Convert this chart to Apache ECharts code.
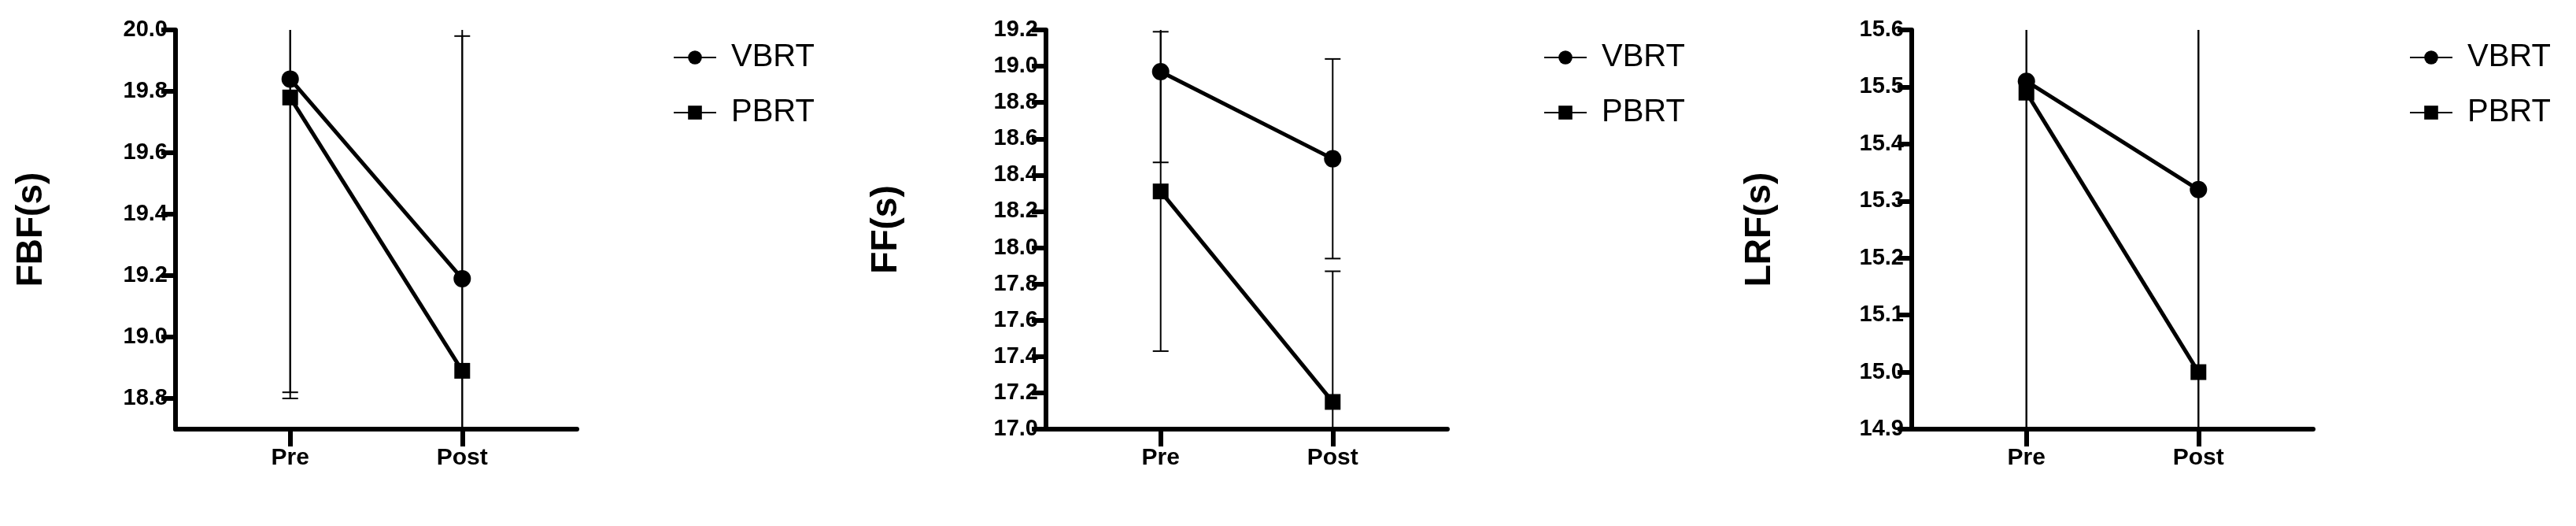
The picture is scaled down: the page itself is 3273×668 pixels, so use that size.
<!DOCTYPE html>
<html><head><meta charset="utf-8">
<script src="https://cdn.jsdelivr.net/npm/echarts@6/dist/echarts.min.js"></script>
<style>html,body{margin:0;padding:0;background:#fff}#c{width:3273px;height:668px}</style>
</head><body><div id="c"></div>
<script>
const categories = ['Pre', 'Post'];
const seriesNames = ['VBRT', 'PBRT'];
const titles = ['FBF(s)', 'FF(s)', 'LRF(s)'];
// means
const fbfVBRT = [19.84, 19.19], fbfPBRT = [19.78, 18.89];
const ffVBRT = [18.97, 18.49], ffPBRT = [18.31, 17.15];
const lrfVBRT = [15.51, 15.32], lrfPBRT = [15.49, 15.00];
// standard deviations
const fbfVBRTsd = [1.02, 0.79], fbfPBRTsd = [0.98, 1.20];
const ffVBRTsd = [0.50, 0.55], ffPBRTsd = [0.88, 0.72];
const lrfVBRTsd = [0.70, 0.80], lrfPBRTsd = [0.70, 0.80];
// tick labels
const fbfTicks = [18.8, 19.0, 19.2, 19.4, 19.6, 19.8, 20.0];
const ffTicks = [17.0, 17.2, 17.4, 17.6, 17.8, 18.0, 18.2, 18.4, 18.6, 18.8, 19.0, 19.2];
const lrfTicks = [14.9, 15.0, 15.1, 15.2, 15.3, 15.4, 15.5, 15.6];

const panels = [
  {v: fbfVBRT, p: fbfPBRT, vs: fbfVBRTsd, ps: fbfPBRTsd, ticks: fbfTicks, min: 18.7, max: 20.0, left: 223, gap: 160},
  {v: ffVBRT, p: ffPBRT, vs: ffVBRTsd, ps: ffPBRTsd, ticks: ffTicks, min: 17.0, max: 19.2, left: 1329, gap: 180},
  {v: lrfVBRT, p: lrfPBRT, vs: lrfVBRTsd, ps: lrfPBRTsd, ticks: lrfTicks, min: 14.9, max: 15.6, left: 2429, gap: 170}
];
const xPos = i => 1 + i * 1.5;
const font = 'Liberation Sans, Arial, sans-serif';

const grid = [], xAxis = [], yAxis = [], series = [], legend = [];
panels.forEach((pn, k) => {
  grid.push({left: pn.left, top: 38, width: 510, height: 507});
  xAxis.push({type: 'value', gridIndex: k, min: 0, max: 3.5, splitLine: {show: false},
    axisLine: {lineStyle: {color: '#000', width: 6}},
    axisTick: {customValues: categories.map((c, i) => xPos(i)), length: 22, lineStyle: {width: 6, color: '#000'}},
    axisLabel: {customValues: categories.map((c, i) => xPos(i)), margin: 22,
      formatter: v => categories[Math.round((v - 1) / 1.5)] || '',
      color: '#000', fontSize: 30, fontWeight: 'bold', fontFamily: font}});
  yAxis.push({type: 'value', gridIndex: k, min: pn.min, max: pn.max, splitLine: {show: false},
    name: titles[k], nameLocation: 'middle', nameGap: pn.gap,
    nameTextStyle: {color: '#000', fontSize: 46, fontWeight: 'bold', fontFamily: font},
    axisLine: {show: true, lineStyle: {color: '#000', width: 6}},
    axisTick: {show: true, customValues: pn.ticks, length: 18, lineStyle: {width: 6, color: '#000'}},
    axisLabel: {customValues: pn.ticks, formatter: v => v.toFixed(1), margin: 10,
      color: '#000', fontSize: 29, fontWeight: 'bold', fontFamily: font}});
  const groups = [[pn.v, pn.vs, 'circle', 22], [pn.p, pn.ps, 'rect', 20]];
  groups.forEach(([m, sd, sym, size], j) => {
    series.push({type: 'custom', xAxisIndex: k, yAxisIndex: k, clip: true, silent: true, z: 1,
      data: m.map((val, i) => [xPos(i), val, sd[i]]),
      renderItem: (params, api) => {
        const x = api.value(0), y = api.value(1), s = api.value(2);
        const top = api.coord([x, y + s]), bot = api.coord([x, y - s]);
        const st = {stroke: '#000', lineWidth: 2};
        return {type: 'group', children: [
          {type: 'line', shape: {x1: top[0], y1: top[1], x2: bot[0], y2: bot[1]}, style: st},
          {type: 'line', shape: {x1: top[0] - 10, y1: top[1], x2: top[0] + 10, y2: top[1]}, style: st},
          {type: 'line', shape: {x1: bot[0] - 10, y1: bot[1], x2: bot[0] + 10, y2: bot[1]}, style: st}
        ]};
      }});
    series.push({type: 'line', name: seriesNames[j], xAxisIndex: k, yAxisIndex: k, z: 3,
      data: m.map((val, i) => [xPos(i), val]), symbol: sym, symbolSize: size, showSymbol: true,
      lineStyle: {color: '#000', width: 5}, itemStyle: {color: '#000'}, animation: false});
  });
  legend.push({show: true, orient: 'vertical', left: pn.left + 627, top: 48, itemGap: 30,
    itemWidth: 54, itemHeight: 22, data: seriesNames,
    textStyle: {color: '#000', fontSize: 40, fontFamily: font, padding: [0, 0, 0, 14]}});
});

const chart = echarts.init(document.getElementById('c'));
chart.setOption({backgroundColor: '#fff', animation: false, grid, xAxis, yAxis, series, legend});
</script></body></html>
